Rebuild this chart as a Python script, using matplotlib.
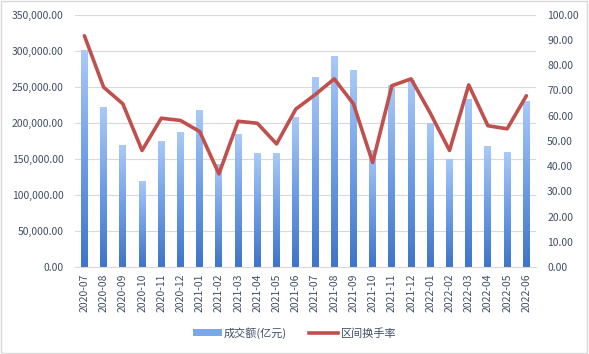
import numpy as np
import matplotlib
matplotlib.use("Agg")
import matplotlib.pyplot as plt
from matplotlib.colors import LinearSegmentedColormap
from matplotlib.patches import Patch
from matplotlib.lines import Line2D
from matplotlib.ticker import FuncFormatter

plt.rcParams['font.family'] = ['Noto Sans CJK SC', 'DejaVu Sans']

# data
months = ['2020-07', '2020-08', '2020-09', '2020-10', '2020-11', '2020-12',
          '2021-01', '2021-02', '2021-03', '2021-04', '2021-05', '2021-06',
          '2021-07', '2021-08', '2021-09', '2021-10', '2021-11', '2021-12',
          '2022-01', '2022-02', '2022-03', '2022-04', '2022-05', '2022-06']
amount = [301000, 221500, 169000, 119500, 175000, 187000,
          218000, 143500, 184500, 158000, 158000, 208500,
          263500, 293000, 273500, 162500, 252000, 259500,
          200500, 150000, 233500, 168000, 159500, 231000]
turnover = [91.7, 71.3, 64.7, 46.2, 59.0, 58.1,
            53.7, 36.9, 57.8, 57.0, 48.8, 62.6,
            68.3, 74.6, 64.7, 41.4, 71.9, 74.6,
            61.0, 46.2, 72.2, 56.0, 54.8, 67.9]

text_color = '#404e66'
line_color = '#c0504d'

fig = plt.figure(figsize=(5.89, 3.54), dpi=100)
ax = fig.add_axes([0.127, 0.246, 0.783, 0.712])
ax2 = ax.twinx()

x = np.arange(len(months))
bars = ax.bar(x, amount, width=0.36, color='none', zorder=2)

# vertical gradient inside each bar
cmap = LinearSegmentedColormap.from_list('g', ['#3f75c8', '#6f9ee6', '#a9c9f8'])
grad = np.linspace(0, 1, 100).reshape(-1, 1)
for b in bars:
    x0, w, h = b.get_x(), b.get_width(), b.get_height()
    im = ax.imshow(grad, cmap=cmap, origin='lower', aspect='auto',
                   extent=[x0, x0 + w, 0, h], zorder=2)
    im.set_clip_path(b)

ax2.plot(x, turnover, color=line_color, lw=2.6, zorder=3, solid_capstyle='round')

ax.set_xlim(-0.5, len(months) - 0.5)
ax.set_ylim(0, 350000)
ax.set_yticks(np.arange(0, 350001, 50000))
ax.yaxis.set_major_formatter(FuncFormatter(lambda v, p: f'{v:,.2f}'))
ax2.set_ylim(0, 100)
ax2.set_yticks(np.arange(0, 101, 10))
ax2.yaxis.set_major_formatter(FuncFormatter(lambda v, p: f'{v:.2f}'))

ax.set_xticks(x)
ax.set_xticklabels(months, rotation=90)

ax.grid(axis='y', color='#d9d9d9', lw=0.8, zorder=0)
ax.set_axisbelow(True)
for a in (ax, ax2):
    for s in a.spines.values():
        s.set_visible(False)
    a.tick_params(length=0, labelsize=7.5, colors=text_color)
ax.spines['bottom'].set_visible(True)
ax.spines['bottom'].set_color('#d9d9d9')
ax.tick_params(axis='y', pad=8)
ax2.tick_params(axis='y', pad=8)
ax.tick_params(axis='x', pad=5)

handles = [Patch(facecolor='#7aa6ea', edgecolor='none'),
           Line2D([], [], color=line_color, lw=2.6)]
fig.legend(handles, ['成交额(亿元)', '区间换手率'], loc='center',
           bbox_to_anchor=(0.5, 0.06), ncol=2, frameon=False,
           fontsize=8, labelcolor=text_color, handlelength=2.6,
           handleheight=0.5, columnspacing=2.0, handletextpad=0.2)

fig.patches.append(plt.Rectangle((0.002, 0.003), 0.995, 0.994, transform=fig.transFigure,
                                 fill=False, edgecolor='#d9d9d9', lw=1))

fig.savefig('out.png', dpi=100)
